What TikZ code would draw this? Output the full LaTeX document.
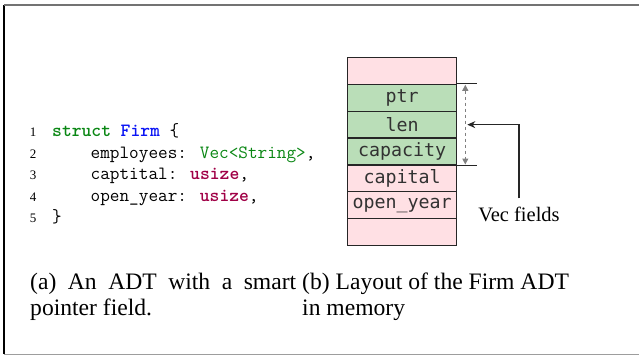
\documentclass[tikz,border=0pt]{standalone}
\usepackage{fontspec}
\setmainfont{Liberation Serif}
\newfontfamily\boxmono{DejaVu Sans Mono}
\usetikzlibrary{arrows.meta}

\definecolor{kwgreen}{RGB}{10,135,20}
\definecolor{tyblue}{RGB}{10,20,245}
\definecolor{usz}{RGB}{160,0,70}
\definecolor{cellpink}{RGB}{255,224,228}
\definecolor{cellgreen}{RGB}{186,222,184}
\definecolor{celltext}{RGB}{50,50,50}
\definecolor{framegray}{RGB}{115,115,115}

\tikzset{
  codeline/.style={anchor=base west, inner sep=0pt,
    font=\ttfamily\fontsize{18.7}{21}\selectfont},
  lineno/.style={anchor=base, inner sep=0pt,
    font=\fontsize{13}{15}\selectfont},
  cell/.style={draw=black!85, line width=1.3pt, minimum width=109pt,
    minimum height=26.8pt, inner sep=0pt, anchor=north west,
    text=celltext, font=\boxmono\fontsize{18.3}{20}\selectfont},
  pinkcell/.style={cell, fill=cellpink},
  greencell/.style={cell, fill=cellgreen},
  caption/.style={anchor=base west, inner sep=0pt,
    font=\fontsize{23.6}{26}\selectfont},
  tick/.style={line width=1.2pt, black!85},
  span/.style={gray, dashed, line width=1.1pt,
    {Triangle[length=6pt,width=6pt]}-{Triangle[length=6pt,width=6pt]}},
  pointer/.style={line width=1.2pt, black!85, -{Stealth[length=8pt,width=7pt]}},
}

\begin{document}
\begin{tikzpicture}[x=1pt, y=-1pt]
  \useasboundingbox (0,0) rectangle (639,356);

  % outer frame
  \draw[line width=1.4pt, black] (4,5) -- (4,354);
  \draw[line width=2pt, framegray] (4,5) -- (639,5);
  \draw[line width=1.6pt, framegray!70] (4,354.5) -- (639,354.5);

  % listing with line numbers
  \node[lineno] (n1) at (33,136.5) {1};
  \node[lineno] (n2) at (33,158) {2};
  \node[lineno] (n3) at (33,179.5) {3};
  \node[lineno] (n4) at (33,201) {4};
  \node[lineno] (n5) at (33,222.5) {5};
  \node[codeline] (c1) at (52,136.5)
    {\textcolor{kwgreen}{\bfseries struct} \textcolor{tyblue}{\bfseries Firm} \{};
  \node[codeline] (c2) at (52,158)
    {\phantom{xxxx}employees: \textcolor{kwgreen}{Vec<String>},};
  \node[codeline] (c3) at (52,179.5)
    {\phantom{xxxx}captital: \textcolor{usz}{\bfseries usize},};
  \node[codeline] (c4) at (52,201)
    {\phantom{xxxx}open\_year: \textcolor{usz}{\bfseries usize},};
  \node[codeline] (c5) at (52,222.5) {\}};

  % memory layout of the struct
  \node[pinkcell]  (m0) at (347,57)    {};
  \node[greencell] (m1) at (347,83.8)  {ptr};
  \node[greencell] (m2) at (347,110.6) {len};
  \node[greencell] (m3) at (347,137.4) {capacity};
  \node[pinkcell]  (m4) at (347,164.2) {capital};
  \node[pinkcell]  (m5) at (347,191)   {open\_year};
  \node[pinkcell]  (m6) at (347,217.8) {};

  % extent of the Vec fields
  \coordinate (topend) at ([xshift=20pt]m1.north east);
  \coordinate (botend) at ([xshift=20pt]m3.south east);
  \draw[tick] (m1.north east) -- (topend);
  \draw[tick] (m3.south east) -- (botend);
  \coordinate (spantop) at ([xshift=8pt,yshift=-1pt]m1.north east);
  \coordinate (spanbot) at ([xshift=8pt,yshift=1pt]m3.south east);
  \draw[span] (spantop) -- (spanbot);
  \coordinate (hit) at ([xshift=10pt]m2.east);

  \node[anchor=center, inner sep=0pt, font=\fontsize{20.5}{22}\selectfont]
    (vf) at (519,214) {Vec fields};
  \coordinate (bend) at (vf.center |- hit);
  \draw[pointer] ([yshift=8pt]vf.north) -- (bend) -- (hit);

  % sub-captions
  \node[caption] (capa1) at (30,289) {\makebox[266pt][s]{(a) An ADT with a smart}};
  \node[caption] (capa2) at (30,315) {pointer field.};
  \node[caption] (capb1) at (302,289) {(b) Layout of the Firm ADT};
  \node[caption] (capb2) at (302,315) {in memory};
\end{tikzpicture}
\end{document}
